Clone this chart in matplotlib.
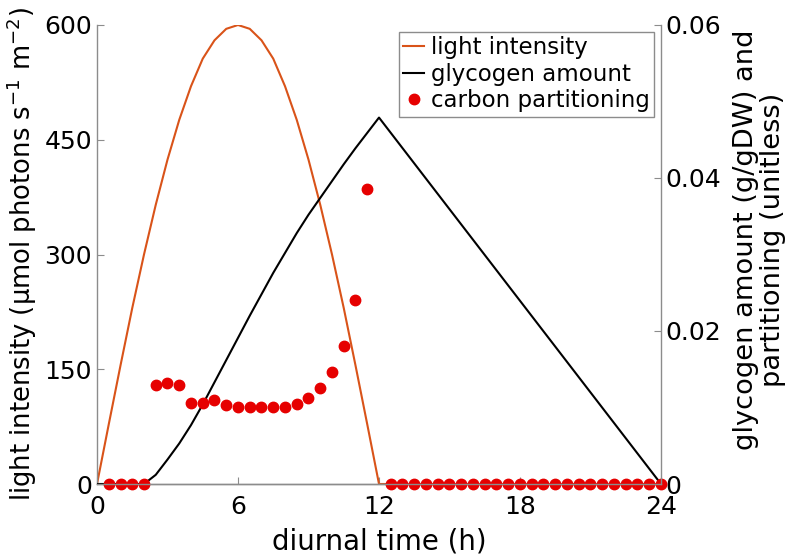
import matplotlib.pyplot as plt

# time axis (h)
light_time = [0, 0.5, 1, 1.5, 2, 2.5, 3, 3.5, 4, 4.5, 5, 5.5, 6, 6.5, 7, 7.5, 8,
              8.5, 9, 9.5, 10, 10.5, 11, 11.5, 12, 24]
light_intensity = [0, 78, 155, 230, 300, 365, 424, 476, 520, 556, 580, 595, 600,
                   595, 580, 556, 520, 476, 424, 365, 300, 230, 155, 78, 0, 0]

glyc_time = [0, 0.5, 1, 1.5, 2, 2.5, 3, 3.5, 4, 4.5, 5, 5.5, 6, 6.5, 7, 7.5, 8,
             8.5, 9, 9.5, 10, 10.5, 11, 11.5, 12, 24]
glycogen = [0, 0, 0, 0, 0, 0.0012, 0.0032, 0.0053, 0.0077, 0.0104, 0.0133, 0.0162,
            0.0191, 0.0220, 0.0248, 0.0276, 0.0302, 0.0328, 0.0352, 0.0374, 0.0396,
            0.0418, 0.0439, 0.0459, 0.0479, 0]

part_time = [0.5, 1, 1.5, 2, 2.5, 3, 3.5, 4, 4.5, 5, 5.5, 6, 6.5, 7, 7.5, 8, 8.5,
             9, 9.5, 10, 10.5, 11, 11.5,
             12.5, 13, 13.5, 14, 14.5, 15, 15.5, 16, 16.5, 17, 17.5, 18, 18.5, 19,
             19.5, 20, 20.5, 21, 21.5, 22, 22.5, 23, 23.5, 24]
partitioning = [0, 0, 0, 0, 0.0129, 0.0132, 0.0130, 0.0106, 0.0106, 0.0110, 0.0103,
                0.0101, 0.0101, 0.0101, 0.0101, 0.0101, 0.0104, 0.0113, 0.0126,
                0.0146, 0.0180, 0.0241, 0.0385,
                0, 0, 0, 0, 0, 0, 0, 0, 0, 0, 0, 0, 0, 0, 0, 0, 0, 0, 0, 0, 0, 0, 0, 0]

orange = '#D95319'
red = '#E60000'
grey = '#8c8c8c'

fig = plt.figure(figsize=(7.96, 5.55), dpi=100)
ax = fig.add_axes([97/796, 1-484/555, (661-97)/796, (484-25)/555])
ax2 = ax.twinx()

l1, = ax.plot(light_time, light_intensity, color=orange, lw=1.5, label='light intensity')
l2, = ax2.plot(glyc_time, glycogen, color='black', lw=1.5, label='glycogen amount')
l3, = ax2.plot(part_time, partitioning, 'o', color=red, ms=7.5, clip_on=False,
               label='carbon partitioning')

ax.set_xlim(0, 24)
ax.set_ylim(0, 600)
ax2.set_ylim(0, 0.06)
ax.set_xticks([0, 6, 12, 18, 24])
ax.set_yticks([0, 150, 300, 450, 600])
ax2.set_yticks([0, 0.02, 0.04, 0.06])
ax2.set_yticklabels(['0', '0.02', '0.04', '0.06'])

for a in (ax, ax2):
    a.spines['top'].set_visible(False)
    for s in a.spines.values():
        s.set_color(grey)
        s.set_linewidth(1)
    a.tick_params(direction='in', length=5, color=grey, labelsize=18, labelcolor='black')
ax.tick_params(axis='x', pad=8)
ax2.spines['left'].set_visible(False)
ax.spines['right'].set_visible(False)

ax.set_xlabel('diurnal time (h)', fontsize=19.8, labelpad=6)
ax.set_ylabel('light intensity (μmol photons s$^{-1}$ m$^{-2}$)', fontsize=18.6, labelpad=4)
ax2.set_ylabel('glycogen amount (g/gDW) and\npartitioning (unitless)', fontsize=19.6,
               rotation=90, linespacing=1.05)
ax2.yaxis.set_label_coords(1.128, 0.532)

leg = ax2.legend(handles=[l1, l2, l3], loc='upper right', bbox_to_anchor=(0.988, 0.985),
                 fontsize=16.5, handlelength=0.9, handletextpad=0.3, borderpad=0.2,
                 labelspacing=0.15, fancybox=False, framealpha=1, borderaxespad=0)
leg.get_frame().set_edgecolor(grey)
leg.get_frame().set_linewidth(1)

fig.savefig('out.png', dpi=100)
